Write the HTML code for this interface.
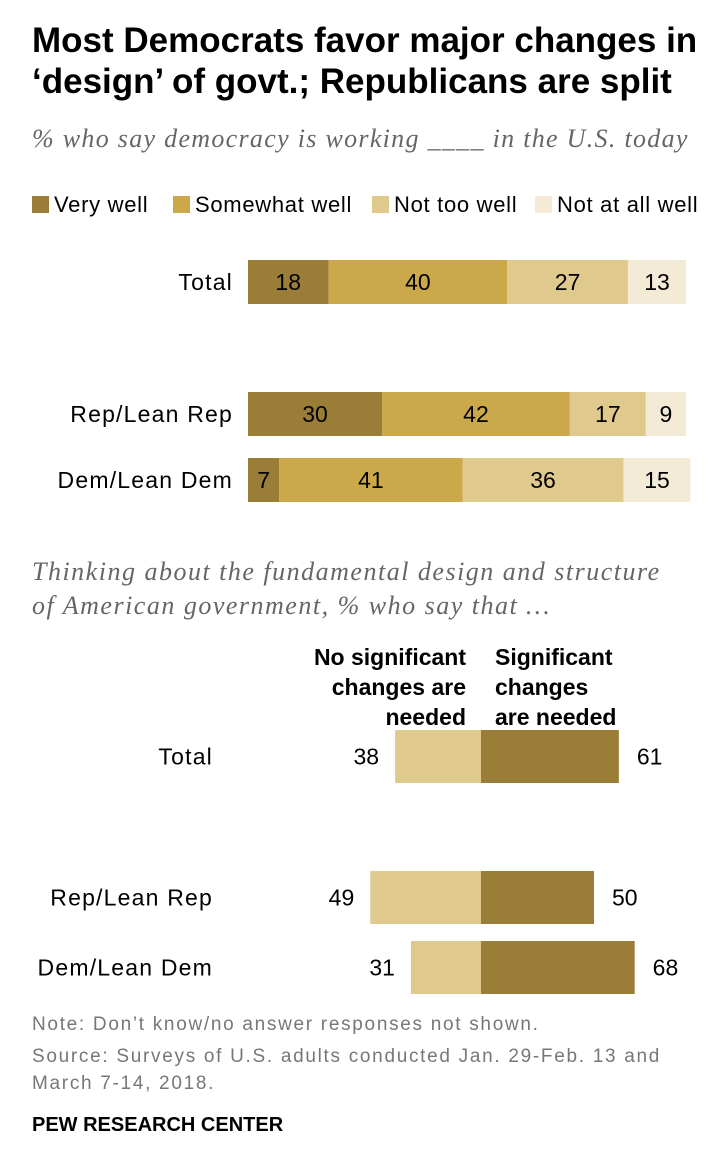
<!DOCTYPE html>
<html><head><meta charset="utf-8">
<style>
body{margin:0;width:716px;height:1156px;background:#fff;font-family:"Liberation Sans",sans-serif;position:relative;overflow:hidden;color:#000}
.abs{position:absolute}
h1{position:absolute;left:32px;top:20px;margin:0;font-size:35px;line-height:41px;font-weight:bold;letter-spacing:0px}
.sub{font-family:"Liberation Serif",serif;font-style:italic;color:#666;font-size:26px;letter-spacing:1.3px}
.leg{font-size:22px;top:192px;letter-spacing:0.7px}
.sw{display:inline-block;width:17px;height:17px;vertical-align:-1px;margin-right:5px}
.note{font-size:19px;color:#777;left:32px;letter-spacing:1.7px}
</style></head><body>
<h1>Most Democrats favor major changes in<br>‘design’ of govt.; Republicans are split</h1>
<div class="abs sub" style="left:32px;top:124px">% who say democracy is working ____ in the U.S. today</div>
<div class="abs leg" style="left:32px"><span class="sw" style="background:#9a7d37"></span>Very well</div>
<div class="abs leg" style="left:173px"><span class="sw" style="background:#cba84a"></span>Somewhat well</div>
<div class="abs leg" style="left:372px"><span class="sw" style="background:#dfc98c"></span>Not too well</div>
<div class="abs leg" style="left:535px"><span class="sw" style="background:#f4ebd7"></span>Not at all well</div>
<div class="abs sub" style="left:32px;top:555px;line-height:34px;letter-spacing:1.5px">Thinking about the fundamental design and structure<br>of American government, % who say that …</div>
<div class="abs" style="left:266px;top:642px;width:200px;text-align:right;font-weight:bold;font-size:23px;line-height:30px">No significant<br>changes are<br>needed</div>
<div class="abs" style="left:495px;top:642px;font-weight:bold;font-size:23px;line-height:30px">Significant<br>changes<br>are needed</div>
<svg class="abs" style="left:0;top:0" width="716" height="1156" id="chart"></svg>
<div class="abs note" style="top:1014px">Note: Don’t know/no answer responses not shown.</div>
<div class="abs note" style="top:1043px;line-height:27px">Source: Surveys of U.S. adults conducted Jan. 29-Feb. 13 and<br>March 7-14, 2018.</div>
<div class="abs" style="left:32px;top:1114px;font-weight:bold;font-size:20px">PEW RESEARCH CENTER</div>
<script>
const groups=["Total","Rep/Lean Rep","Dem/Lean Dem"];
const veryWell=[18,30,7];
const somewhatWell=[40,42,41];
const notTooWell=[27,17,36];
const notAtAllWell=[13,9,15];
const noChanges=[38,49,31];
const changes=[61,50,68];
const NS="http://www.w3.org/2000/svg";
const svg=document.getElementById('chart');
function mk(t,a){const e=document.createElementNS(NS,t);for(const k in a)e.setAttribute(k,a[k]);svg.appendChild(e);return e;}
const topY=[260,392,458],x0=248,sc=4.47,bh=44;
const series=[veryWell,somewhatWell,notTooWell,notAtAllWell];
const cols=["#9a7d37","#cba84a","#dfc98c","#f4ebd7"];
groups.forEach((g,i)=>{
  const l=mk('text',{x:233,y:topY[i]+bh/2+8,'text-anchor':'end','font-size':23,'letter-spacing':1.2,'font-family':'Liberation Sans'});
  l.textContent=g;
  
  
  let x=x0;
  series.forEach((s,j)=>{
    const w=s[i]*sc;
    const r=mk('rect',{x:x,y:topY[i],width:w,height:bh,fill:cols[j]});
    
    
    const t=mk('text',{x:x+w/2,y:topY[i]+bh/2+8,'text-anchor':'middle','font-size':23,'font-family':'Liberation Sans'});
    t.textContent=s[i];
    
    
    x+=w;
  });
});
const botY=[730,871,941],cx=481,sc2=2.26,bh2=53;
groups.forEach((g,i)=>{
  const l=mk('text',{x:213,y:botY[i]+bh2/2+8,'text-anchor':'end','font-size':23,'letter-spacing':1.2,'font-family':'Liberation Sans'});
  l.textContent=g;
  
  
  const wl=noChanges[i]*sc2,wr=changes[i]*sc2;
  const a=mk('rect',{x:cx-wl,y:botY[i],width:wl,height:bh2,fill:"#dfc98c"});
  
  
  const b=mk('rect',{x:cx,y:botY[i],width:wr,height:bh2,fill:"#9a7d37"});
  
  
  const t1=mk('text',{x:cx-wl-16,y:botY[i]+bh2/2+8,'text-anchor':'end','font-size':23,'font-family':'Liberation Sans'});
  t1.textContent=noChanges[i];
  
  
  const t2=mk('text',{x:cx+wr+18,y:botY[i]+bh2/2+8,'font-size':23,'font-family':'Liberation Sans'});
  t2.textContent=changes[i];
  
  
});
</script>
</body></html>
